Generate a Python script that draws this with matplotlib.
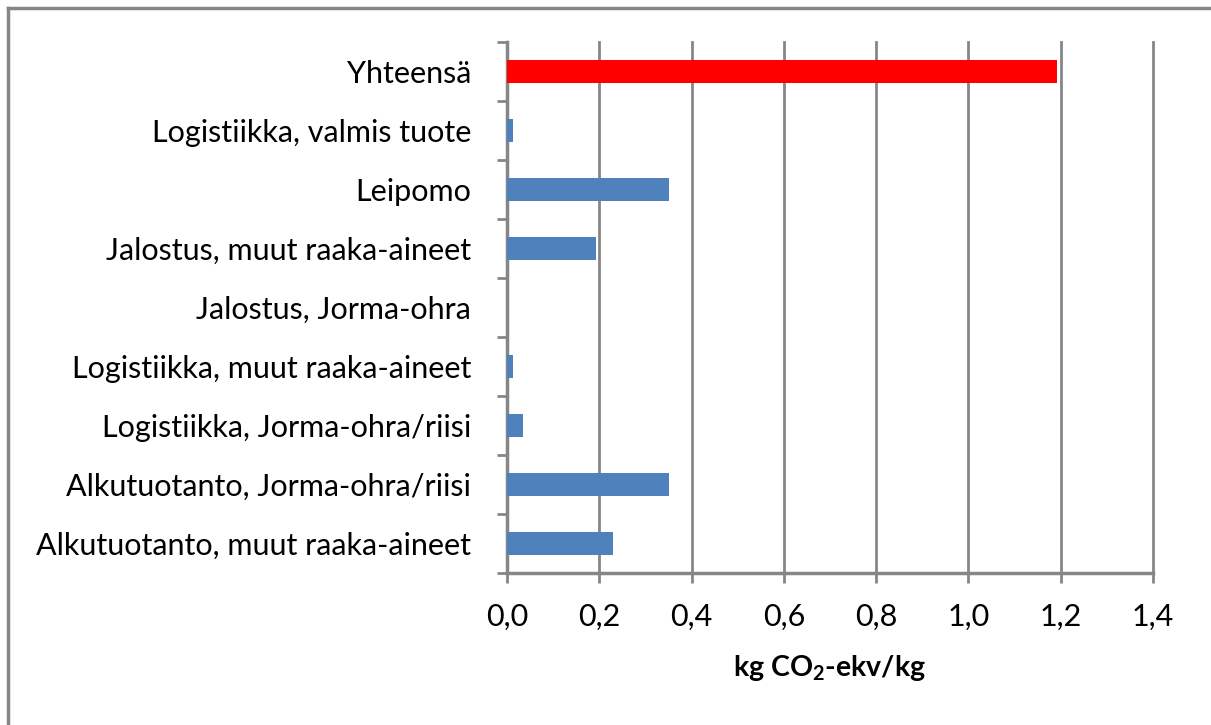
import matplotlib
matplotlib.use("Agg")
import matplotlib.pyplot as plt
from matplotlib.lines import Line2D
from matplotlib.ticker import FixedLocator

categories = [
    "Alkutuotanto, muut raaka-aineet",
    "Alkutuotanto, Jorma-ohra/riisi",
    "Logistiikka, Jorma-ohra/riisi",
    "Logistiikka, muut raaka-aineet",
    "Jalostus, Jorma-ohra",
    "Jalostus, muut raaka-aineet",
    "Leipomo",
    "Logistiikka, valmis tuote",
    "Yhteensä",
]
values = [0.229, 0.350, 0.034, 0.012, 0.0, 0.192, 0.350, 0.012, 1.193]
colors = ["#4F81BD"] * 8 + ["#FF0000"]
xticks = [0.0, 0.2, 0.4, 0.6, 0.8, 1.0, 1.2, 1.4]
xticklabels = ["0,0", "0,2", "0,4", "0,6", "0,8", "1,0", "1,2", "1,4"]

plt.rcParams["font.family"] = ["Lato", "DejaVu Sans"]
plt.rcParams["mathtext.fontset"] = "custom"
plt.rcParams["mathtext.rm"] = "Lato:bold"

W, H = 1211, 725
fig = plt.figure(figsize=(W / 100, H / 100), dpi=100)
ax = fig.add_axes([507 / W, 1 - 573 / H, (1153 - 507) / W, (573 - 42) / H])

gray = "#868686"
y = list(range(len(categories)))
ax.barh(y, values, height=0.39, color=colors, zorder=3)

ax.set_xlim(0, 1.4)
ax.set_ylim(-0.5, len(categories) - 0.5)
ax.set_xticks(xticks)
ax.set_xticklabels(xticklabels, fontsize=22)
ax.set_yticks(y)
ax.set_yticklabels(categories, fontsize=22)
ax.yaxis.set_minor_locator(FixedLocator([i - 0.5 for i in range(len(categories) + 1)]))

ax.tick_params(axis="y", which="major", length=0, pad=26)
ax.tick_params(axis="y", which="minor", length=7.5, width=2, color=gray, direction="out")
ax.tick_params(axis="x", which="major", length=7.5, width=2, color=gray, direction="out", pad=14)

ax.grid(axis="x", color=gray, linewidth=2, zorder=0)
for gl in ax.get_xgridlines():
    gl.set_clip_on(False)
ax.set_axisbelow(True)
for s in ["top", "right"]:
    ax.spines[s].set_visible(False)
for s in ["left", "bottom"]:
    ax.spines[s].set_color(gray)
    ax.spines[s].set_linewidth(2.5)

ax.set_xlabel(r"kg CO$_\mathrm{2}$-ekv/kg", fontsize=20.5, fontweight="bold", labelpad=16)

# outer chart border (only top/left visible)
fig.add_artist(Line2D([7.5 / W, 7.5 / W], [0, 1 - 7.5 / H], transform=fig.transFigure, color=gray, linewidth=2.5))
fig.add_artist(Line2D([7.5 / W, 1], [1 - 7.5 / H, 1 - 7.5 / H], transform=fig.transFigure, color=gray, linewidth=2.5))

fig.savefig("out.png", dpi=100)
